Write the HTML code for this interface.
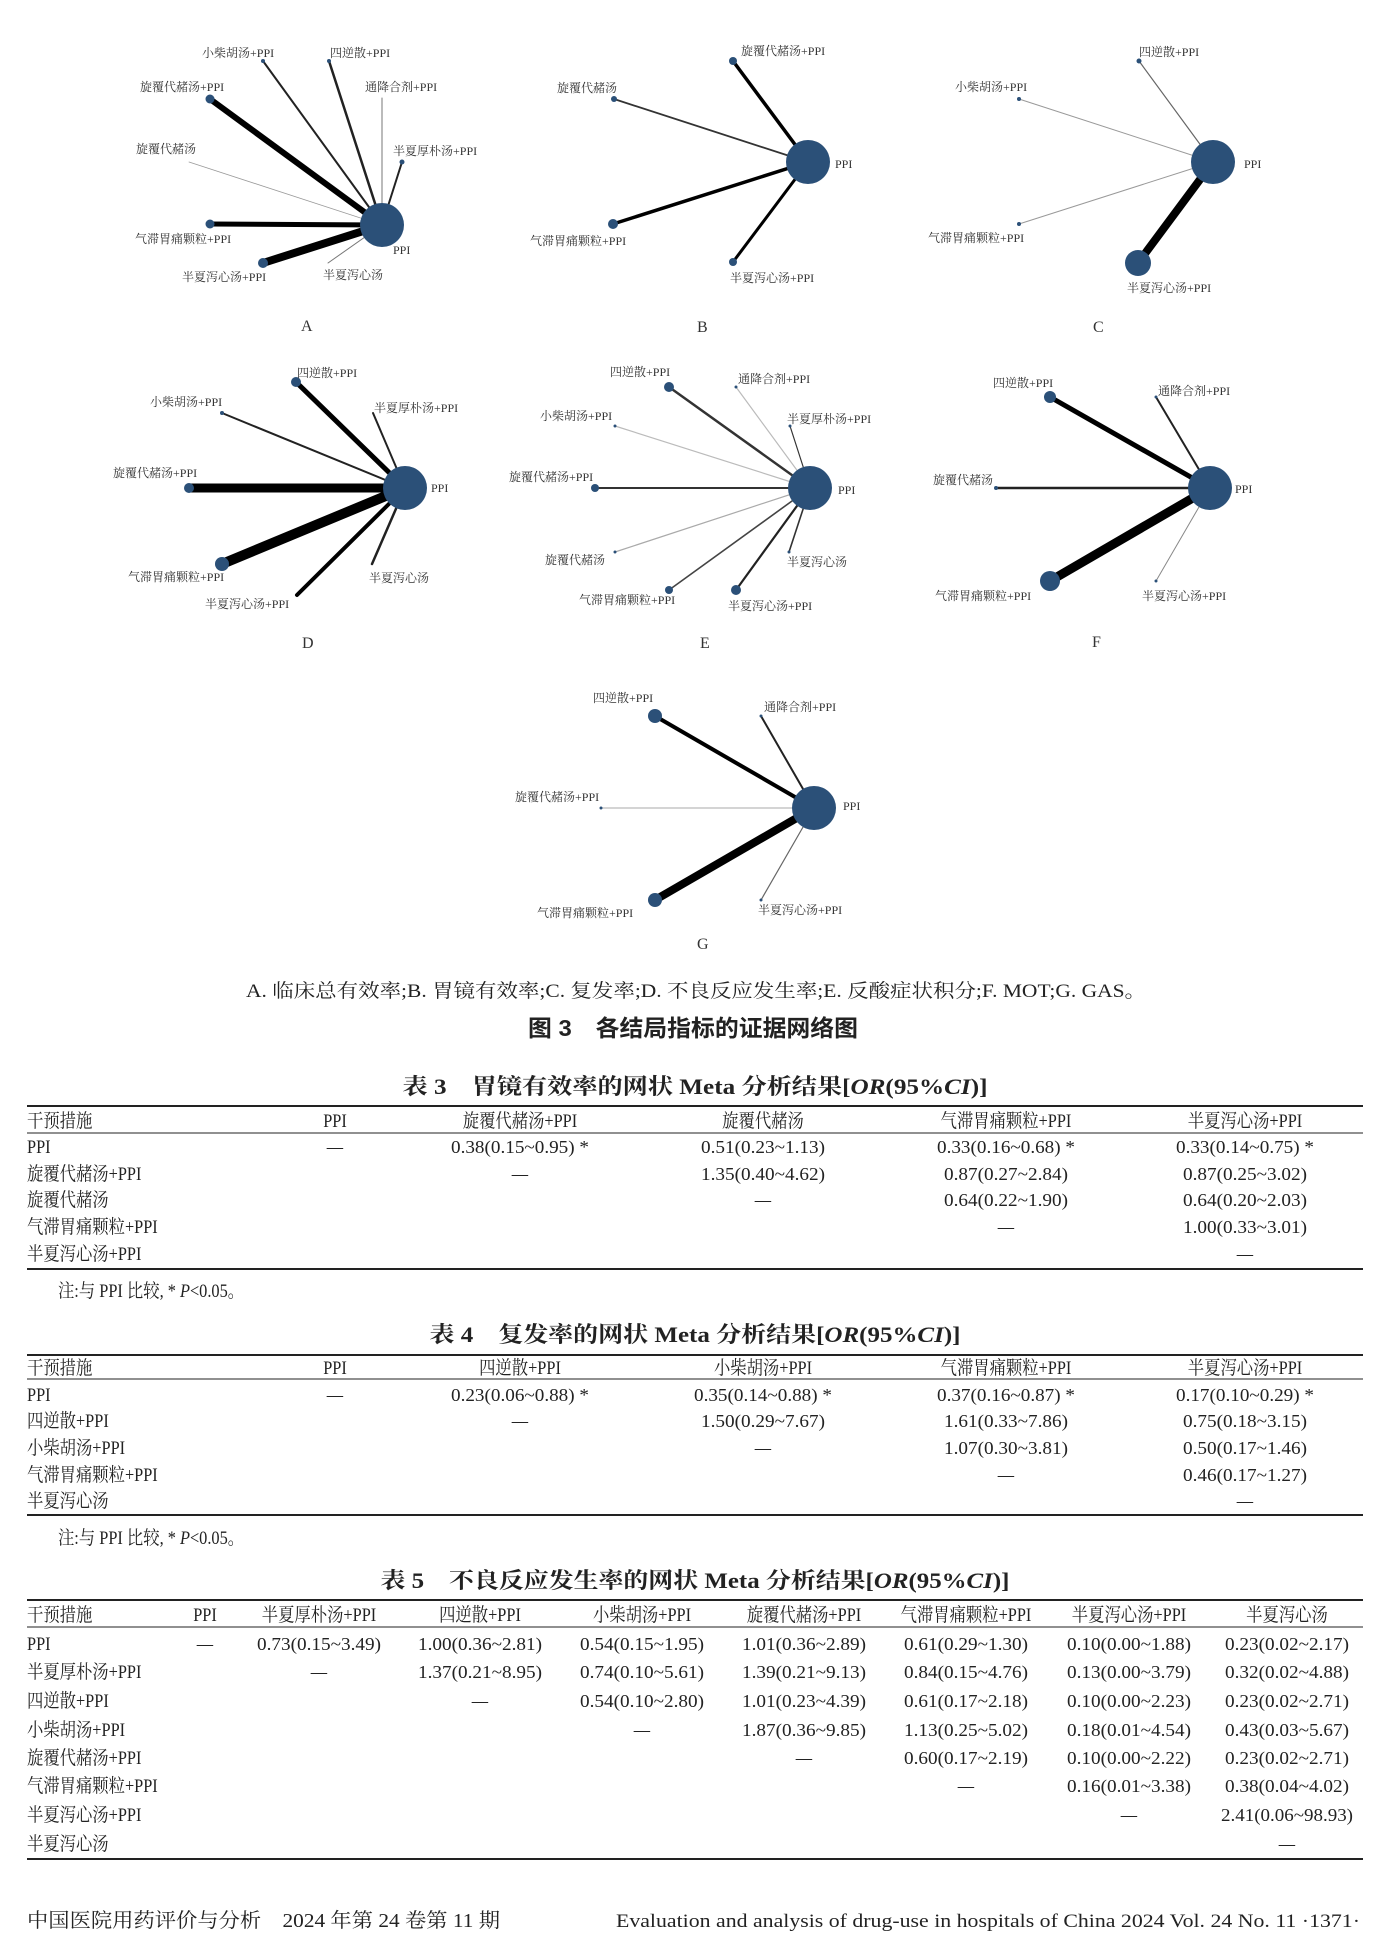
<!DOCTYPE html>
<html><head><meta charset="utf-8"><style>
html,body{margin:0;padding:0;background:#fff}
svg{display:block}
text{font-family:"Liberation Serif","Noto Serif CJK SC","Noto Sans CJK SC",serif;fill:#222}
.n text{font-size:12px;fill:#333}
.t text{font-size:19px;transform-box:fill-box;transform:scaleX(0.86);transform-origin:center}
.t text.l{transform-origin:left center}
.t text.v{transform:none;font-size:18px}
.c{fill:#2b5078}
</style></head><body>
<svg width="1375" height="1940" viewBox="0 0 1375 1940" xmlns="http://www.w3.org/2000/svg">
<g class="n" stroke-linecap="round">
<!-- A -->
<line x1="382" y1="225" x2="263" y2="61" stroke="#222" stroke-width="2"/>
<line x1="382" y1="225" x2="329" y2="61" stroke="#222" stroke-width="2.5"/>
<line x1="382" y1="225" x2="382" y2="98" stroke="#777" stroke-width="1"/>
<line x1="382" y1="225" x2="402" y2="162" stroke="#222" stroke-width="2"/>
<line x1="382" y1="225" x2="210" y2="99" stroke="#000" stroke-width="6"/>
<line x1="382" y1="225" x2="189" y2="162" stroke="#999" stroke-width="0.8"/>
<line x1="382" y1="225" x2="210" y2="224" stroke="#000" stroke-width="5"/>
<line x1="382" y1="225" x2="263" y2="263" stroke="#000" stroke-width="8"/>
<line x1="382" y1="225" x2="328" y2="263" stroke="#777" stroke-width="1"/>
<circle class="c" cx="382" cy="225" r="22"/><circle class="c" cx="263" cy="61" r="2"/><circle class="c" cx="329" cy="61" r="2"/><circle class="c" cx="402" cy="162" r="2.5"/><circle class="c" cx="210" cy="99" r="4.5"/><circle class="c" cx="210" cy="224" r="4.5"/><circle class="c" cx="263" cy="263" r="5"/>
<text x="202" y="57">小柴胡汤+PPI</text><text x="330" y="57">四逆散+PPI</text><text x="365" y="91">通降合剂+PPI</text><text x="393" y="155">半夏厚朴汤+PPI</text><text x="140" y="91">旋覆代赭汤+PPI</text><text x="136" y="153">旋覆代赭汤</text><text x="135" y="243">气滞胃痛颗粒+PPI</text><text x="182" y="281">半夏泻心汤+PPI</text><text x="323" y="279">半夏泻心汤</text><text x="393" y="254">PPI</text>
<text x="301" y="331" style="font-size:16px">A</text>
<!-- B -->
<line x1="808" y1="162" x2="733" y2="61" stroke="#000" stroke-width="3.5"/>
<line x1="808" y1="162" x2="614" y2="99" stroke="#333" stroke-width="1.8"/>
<line x1="808" y1="162" x2="613" y2="224" stroke="#000" stroke-width="3.5"/>
<line x1="808" y1="162" x2="733" y2="262" stroke="#000" stroke-width="3"/>
<circle class="c" cx="808" cy="162" r="22"/><circle class="c" cx="733" cy="61" r="4"/><circle class="c" cx="614" cy="99" r="3"/><circle class="c" cx="613" cy="224" r="5"/><circle class="c" cx="733" cy="262" r="4"/>
<text x="741" y="55">旋覆代赭汤+PPI</text><text x="557" y="92">旋覆代赭汤</text><text x="530" y="245">气滞胃痛颗粒+PPI</text><text x="730" y="282">半夏泻心汤+PPI</text><text x="835" y="168">PPI</text>
<text x="697" y="332" style="font-size:16px">B</text>
<!-- C -->
<line x1="1213" y1="162" x2="1139" y2="61" stroke="#666" stroke-width="1.2"/>
<line x1="1213" y1="162" x2="1019" y2="99" stroke="#999" stroke-width="1"/>
<line x1="1213" y1="162" x2="1019" y2="224" stroke="#999" stroke-width="1"/>
<line x1="1213" y1="162" x2="1138" y2="263" stroke="#000" stroke-width="8"/>
<circle class="c" cx="1213" cy="162" r="22"/><circle class="c" cx="1139" cy="61" r="2.5"/><circle class="c" cx="1019" cy="99" r="2"/><circle class="c" cx="1019" cy="224" r="2"/><circle class="c" cx="1138" cy="263" r="13"/>
<text x="1139" y="56">四逆散+PPI</text><text x="955" y="91">小柴胡汤+PPI</text><text x="928" y="242">气滞胃痛颗粒+PPI</text><text x="1127" y="292">半夏泻心汤+PPI</text><text x="1244" y="168">PPI</text>
<text x="1093" y="332" style="font-size:16px">C</text>
<!-- D -->
<line x1="405" y1="488" x2="296" y2="382" stroke="#000" stroke-width="5"/>
<line x1="405" y1="488" x2="222" y2="413" stroke="#222" stroke-width="2"/>
<line x1="405" y1="488" x2="373" y2="413" stroke="#222" stroke-width="2"/>
<line x1="405" y1="488" x2="189" y2="488" stroke="#000" stroke-width="9"/>
<line x1="405" y1="488" x2="222" y2="564" stroke="#000" stroke-width="10"/>
<line x1="405" y1="488" x2="297" y2="595" stroke="#000" stroke-width="4"/>
<line x1="405" y1="488" x2="372" y2="564" stroke="#222" stroke-width="2.5"/>
<circle class="c" cx="405" cy="488" r="22"/><circle class="c" cx="296" cy="382" r="5"/><circle class="c" cx="222" cy="413" r="2"/><circle class="c" cx="189" cy="488" r="5"/><circle class="c" cx="222" cy="564" r="7"/>
<text x="297" y="377">四逆散+PPI</text><text x="150" y="406">小柴胡汤+PPI</text><text x="374" y="412">半夏厚朴汤+PPI</text><text x="113" y="477">旋覆代赭汤+PPI</text><text x="128" y="581">气滞胃痛颗粒+PPI</text><text x="205" y="608">半夏泻心汤+PPI</text><text x="369" y="582">半夏泻心汤</text><text x="431" y="492">PPI</text>
<text x="302" y="648" style="font-size:16px">D</text>
<!-- E -->
<line x1="810" y1="488" x2="669" y2="387" stroke="#333" stroke-width="2.5"/>
<line x1="810" y1="488" x2="736" y2="387" stroke="#bbb" stroke-width="1.2"/>
<line x1="810" y1="488" x2="615" y2="426" stroke="#bbb" stroke-width="1.2"/>
<line x1="810" y1="488" x2="790" y2="426" stroke="#333" stroke-width="1.2"/>
<line x1="810" y1="488" x2="595" y2="488" stroke="#333" stroke-width="2"/>
<line x1="810" y1="488" x2="615" y2="552" stroke="#aaa" stroke-width="1.2"/>
<line x1="810" y1="488" x2="669" y2="590" stroke="#444" stroke-width="1.6"/>
<line x1="810" y1="488" x2="736" y2="590" stroke="#222" stroke-width="2.2"/>
<line x1="810" y1="488" x2="789" y2="552" stroke="#333" stroke-width="1.6"/>
<circle class="c" cx="810" cy="488" r="22"/><circle class="c" cx="669" cy="387" r="5"/><circle class="c" cx="736" cy="387" r="1.5"/><circle class="c" cx="615" cy="426" r="1.5"/><circle class="c" cx="790" cy="426" r="1.5"/><circle class="c" cx="595" cy="488" r="4"/><circle class="c" cx="615" cy="552" r="1.5"/><circle class="c" cx="669" cy="590" r="4"/><circle class="c" cx="736" cy="590" r="5"/><circle class="c" cx="789" cy="552" r="1.5"/>
<text x="610" y="376">四逆散+PPI</text><text x="738" y="383">通降合剂+PPI</text><text x="540" y="420">小柴胡汤+PPI</text><text x="787" y="423">半夏厚朴汤+PPI</text><text x="509" y="481">旋覆代赭汤+PPI</text><text x="545" y="564">旋覆代赭汤</text><text x="579" y="604">气滞胃痛颗粒+PPI</text><text x="728" y="610">半夏泻心汤+PPI</text><text x="787" y="566">半夏泻心汤</text><text x="838" y="494">PPI</text>
<text x="700" y="648" style="font-size:16px">E</text>
<!-- F -->
<line x1="1210" y1="488" x2="1050" y2="397" stroke="#000" stroke-width="5"/>
<line x1="1210" y1="488" x2="1156" y2="397" stroke="#222" stroke-width="2"/>
<line x1="1210" y1="488" x2="996" y2="488" stroke="#222" stroke-width="2.5"/>
<line x1="1210" y1="488" x2="1050" y2="581" stroke="#000" stroke-width="9"/>
<line x1="1210" y1="488" x2="1156" y2="581" stroke="#888" stroke-width="1"/>
<circle class="c" cx="1210" cy="488" r="22"/><circle class="c" cx="1050" cy="397" r="6"/><circle class="c" cx="1156" cy="397" r="1.5"/><circle class="c" cx="996" cy="488" r="2"/><circle class="c" cx="1050" cy="581" r="10"/><circle class="c" cx="1156" cy="581" r="1.5"/>
<text x="993" y="387">四逆散+PPI</text><text x="1158" y="395">通降合剂+PPI</text><text x="933" y="484">旋覆代赭汤</text><text x="935" y="600">气滞胃痛颗粒+PPI</text><text x="1142" y="600">半夏泻心汤+PPI</text><text x="1235" y="493">PPI</text>
<text x="1092" y="647" style="font-size:16px">F</text>
<!-- G -->
<line x1="814" y1="808" x2="655" y2="716" stroke="#000" stroke-width="4"/>
<line x1="814" y1="808" x2="761" y2="716" stroke="#222" stroke-width="2"/>
<line x1="814" y1="808" x2="601" y2="808" stroke="#bbb" stroke-width="1.2"/>
<line x1="814" y1="808" x2="655" y2="900" stroke="#000" stroke-width="8"/>
<line x1="814" y1="808" x2="761" y2="900" stroke="#666" stroke-width="1.2"/>
<circle class="c" cx="814" cy="808" r="22"/><circle class="c" cx="655" cy="716" r="7"/><circle class="c" cx="761" cy="716" r="1.5"/><circle class="c" cx="601" cy="808" r="1.5"/><circle class="c" cx="655" cy="900" r="7"/><circle class="c" cx="761" cy="900" r="1.5"/>
<text x="593" y="702">四逆散+PPI</text><text x="764" y="711">通降合剂+PPI</text><text x="515" y="801">旋覆代赭汤+PPI</text><text x="537" y="917">气滞胃痛颗粒+PPI</text><text x="758" y="914">半夏泻心汤+PPI</text><text x="843" y="810">PPI</text>
<text x="697" y="949" style="font-size:16px">G</text>
</g>
<text x="696" y="997" text-anchor="middle" textLength="900" lengthAdjust="spacingAndGlyphs" style="font-size:19px">A. 临床总有效率;B. 胃镜有效率;C. 复发率;D. 不良反应发生率;E. 反酸症状积分;F. MOT;G. GAS。</text>
<text x="693" y="1036" text-anchor="middle" textLength="330" lengthAdjust="spacingAndGlyphs" style="font-size:23px;font-weight:bold;font-family:'Liberation Sans','Noto Sans CJK SC',sans-serif">图 3　各结局指标的证据网络图</text>

<!-- Table 3 -->
<text x="695" y="1094" text-anchor="middle" textLength="585" lengthAdjust="spacingAndGlyphs" style="font-size:22px;font-weight:bold">表 3　胃镜有效率的网状 Meta 分析结果[<tspan font-style="italic">OR</tspan>(95%<tspan font-style="italic">CI</tspan>)]</text>
<line x1="27" y1="1106" x2="1363" y2="1106" stroke="#222" stroke-width="2"/>
<line x1="27" y1="1133" x2="1363" y2="1133" stroke="#222" stroke-width="1"/>
<line x1="27" y1="1269" x2="1363" y2="1269" stroke="#222" stroke-width="2"/>
<g class="t" text-anchor="middle">
<text class="l" x="27" y="1127" text-anchor="start">干预措施</text><text x="335" y="1127">PPI</text><text x="520" y="1127">旋覆代赭汤+PPI</text><text x="763" y="1127">旋覆代赭汤</text><text x="1006" y="1127">气滞胃痛颗粒+PPI</text><text x="1245" y="1127">半夏泻心汤+PPI</text>
<text class="l" x="27" y="1153" text-anchor="start">PPI</text><text x="335" y="1153">—</text><text class="v" x="520" y="1153" textLength="138" lengthAdjust="spacingAndGlyphs">0.38(0.15~0.95) *</text><text class="v" x="763" y="1153" textLength="124" lengthAdjust="spacingAndGlyphs">0.51(0.23~1.13)</text><text class="v" x="1006" y="1153" textLength="138" lengthAdjust="spacingAndGlyphs">0.33(0.16~0.68) *</text><text class="v" x="1245" y="1153" textLength="138" lengthAdjust="spacingAndGlyphs">0.33(0.14~0.75) *</text>
<text class="l" x="27" y="1180" text-anchor="start">旋覆代赭汤+PPI</text><text x="520" y="1180">—</text><text class="v" x="763" y="1180" textLength="124" lengthAdjust="spacingAndGlyphs">1.35(0.40~4.62)</text><text class="v" x="1006" y="1180" textLength="124" lengthAdjust="spacingAndGlyphs">0.87(0.27~2.84)</text><text class="v" x="1245" y="1180" textLength="124" lengthAdjust="spacingAndGlyphs">0.87(0.25~3.02)</text>
<text class="l" x="27" y="1206" text-anchor="start">旋覆代赭汤</text><text x="763" y="1206">—</text><text class="v" x="1006" y="1206" textLength="124" lengthAdjust="spacingAndGlyphs">0.64(0.22~1.90)</text><text class="v" x="1245" y="1206" textLength="124" lengthAdjust="spacingAndGlyphs">0.64(0.20~2.03)</text>
<text class="l" x="27" y="1233" text-anchor="start">气滞胃痛颗粒+PPI</text><text x="1006" y="1233">—</text><text class="v" x="1245" y="1233" textLength="124" lengthAdjust="spacingAndGlyphs">1.00(0.33~3.01)</text>
<text class="l" x="27" y="1260" text-anchor="start">半夏泻心汤+PPI</text><text x="1245" y="1260">—</text>
<text class="l" x="58" y="1297" text-anchor="start">注:与 PPI 比较, * <tspan font-style="italic">P</tspan>&lt;0.05。</text>
</g>

<!-- Table 4 -->
<text x="695" y="1342" text-anchor="middle" textLength="531" lengthAdjust="spacingAndGlyphs" style="font-size:22px;font-weight:bold">表 4　复发率的网状 Meta 分析结果[<tspan font-style="italic">OR</tspan>(95%<tspan font-style="italic">CI</tspan>)]</text>
<line x1="27" y1="1355" x2="1363" y2="1355" stroke="#222" stroke-width="2"/>
<line x1="27" y1="1379" x2="1363" y2="1379" stroke="#222" stroke-width="1"/>
<line x1="27" y1="1515" x2="1363" y2="1515" stroke="#222" stroke-width="2"/>
<g class="t" text-anchor="middle">
<text class="l" x="27" y="1374" text-anchor="start">干预措施</text><text x="335" y="1374">PPI</text><text x="520" y="1374">四逆散+PPI</text><text x="763" y="1374">小柴胡汤+PPI</text><text x="1006" y="1374">气滞胃痛颗粒+PPI</text><text x="1245" y="1374">半夏泻心汤+PPI</text>
<text class="l" x="27" y="1401" text-anchor="start">PPI</text><text x="335" y="1401">—</text><text class="v" x="520" y="1401" textLength="138" lengthAdjust="spacingAndGlyphs">0.23(0.06~0.88) *</text><text class="v" x="763" y="1401" textLength="138" lengthAdjust="spacingAndGlyphs">0.35(0.14~0.88) *</text><text class="v" x="1006" y="1401" textLength="138" lengthAdjust="spacingAndGlyphs">0.37(0.16~0.87) *</text><text class="v" x="1245" y="1401" textLength="138" lengthAdjust="spacingAndGlyphs">0.17(0.10~0.29) *</text>
<text class="l" x="27" y="1427" text-anchor="start">四逆散+PPI</text><text x="520" y="1427">—</text><text class="v" x="763" y="1427" textLength="124" lengthAdjust="spacingAndGlyphs">1.50(0.29~7.67)</text><text class="v" x="1006" y="1427" textLength="124" lengthAdjust="spacingAndGlyphs">1.61(0.33~7.86)</text><text class="v" x="1245" y="1427" textLength="124" lengthAdjust="spacingAndGlyphs">0.75(0.18~3.15)</text>
<text class="l" x="27" y="1454" text-anchor="start">小柴胡汤+PPI</text><text x="763" y="1454">—</text><text class="v" x="1006" y="1454" textLength="124" lengthAdjust="spacingAndGlyphs">1.07(0.30~3.81)</text><text class="v" x="1245" y="1454" textLength="124" lengthAdjust="spacingAndGlyphs">0.50(0.17~1.46)</text>
<text class="l" x="27" y="1481" text-anchor="start">气滞胃痛颗粒+PPI</text><text x="1006" y="1481">—</text><text class="v" x="1245" y="1481" textLength="124" lengthAdjust="spacingAndGlyphs">0.46(0.17~1.27)</text>
<text class="l" x="27" y="1507" text-anchor="start">半夏泻心汤</text><text x="1245" y="1507">—</text>
<text class="l" x="58" y="1544" text-anchor="start">注:与 PPI 比较, * <tspan font-style="italic">P</tspan>&lt;0.05。</text>
</g>

<!-- Table 5 -->
<text x="695" y="1588" text-anchor="middle" textLength="629" lengthAdjust="spacingAndGlyphs" style="font-size:22px;font-weight:bold">表 5　不良反应发生率的网状 Meta 分析结果[<tspan font-style="italic">OR</tspan>(95%<tspan font-style="italic">CI</tspan>)]</text>
<line x1="27" y1="1600" x2="1363" y2="1600" stroke="#222" stroke-width="2"/>
<line x1="27" y1="1627" x2="1363" y2="1627" stroke="#222" stroke-width="1"/>
<line x1="27" y1="1859" x2="1363" y2="1859" stroke="#222" stroke-width="2"/>
<g class="t" text-anchor="middle">
<text class="l" x="27" y="1621" text-anchor="start">干预措施</text><text x="205" y="1621">PPI</text><text x="319" y="1621">半夏厚朴汤+PPI</text><text x="480" y="1621">四逆散+PPI</text><text x="642" y="1621">小柴胡汤+PPI</text><text x="804" y="1621">旋覆代赭汤+PPI</text><text x="966" y="1621">气滞胃痛颗粒+PPI</text><text x="1129" y="1621">半夏泻心汤+PPI</text><text x="1287" y="1621">半夏泻心汤</text>
<text class="l" x="27" y="1650" text-anchor="start">PPI</text><text x="205" y="1650">—</text><text class="v" x="319" y="1650" textLength="124" lengthAdjust="spacingAndGlyphs">0.73(0.15~3.49)</text><text class="v" x="480" y="1650" textLength="124" lengthAdjust="spacingAndGlyphs">1.00(0.36~2.81)</text><text class="v" x="642" y="1650" textLength="124" lengthAdjust="spacingAndGlyphs">0.54(0.15~1.95)</text><text class="v" x="804" y="1650" textLength="124" lengthAdjust="spacingAndGlyphs">1.01(0.36~2.89)</text><text class="v" x="966" y="1650" textLength="124" lengthAdjust="spacingAndGlyphs">0.61(0.29~1.30)</text><text class="v" x="1129" y="1650" textLength="124" lengthAdjust="spacingAndGlyphs">0.10(0.00~1.88)</text><text class="v" x="1287" y="1650" textLength="124" lengthAdjust="spacingAndGlyphs">0.23(0.02~2.17)</text>
<text class="l" x="27" y="1678" text-anchor="start">半夏厚朴汤+PPI</text><text x="319" y="1678">—</text><text class="v" x="480" y="1678" textLength="124" lengthAdjust="spacingAndGlyphs">1.37(0.21~8.95)</text><text class="v" x="642" y="1678" textLength="124" lengthAdjust="spacingAndGlyphs">0.74(0.10~5.61)</text><text class="v" x="804" y="1678" textLength="124" lengthAdjust="spacingAndGlyphs">1.39(0.21~9.13)</text><text class="v" x="966" y="1678" textLength="124" lengthAdjust="spacingAndGlyphs">0.84(0.15~4.76)</text><text class="v" x="1129" y="1678" textLength="124" lengthAdjust="spacingAndGlyphs">0.13(0.00~3.79)</text><text class="v" x="1287" y="1678" textLength="124" lengthAdjust="spacingAndGlyphs">0.32(0.02~4.88)</text>
<text class="l" x="27" y="1707" text-anchor="start">四逆散+PPI</text><text x="480" y="1707">—</text><text class="v" x="642" y="1707" textLength="124" lengthAdjust="spacingAndGlyphs">0.54(0.10~2.80)</text><text class="v" x="804" y="1707" textLength="124" lengthAdjust="spacingAndGlyphs">1.01(0.23~4.39)</text><text class="v" x="966" y="1707" textLength="124" lengthAdjust="spacingAndGlyphs">0.61(0.17~2.18)</text><text class="v" x="1129" y="1707" textLength="124" lengthAdjust="spacingAndGlyphs">0.10(0.00~2.23)</text><text class="v" x="1287" y="1707" textLength="124" lengthAdjust="spacingAndGlyphs">0.23(0.02~2.71)</text>
<text class="l" x="27" y="1736" text-anchor="start">小柴胡汤+PPI</text><text x="642" y="1736">—</text><text class="v" x="804" y="1736" textLength="124" lengthAdjust="spacingAndGlyphs">1.87(0.36~9.85)</text><text class="v" x="966" y="1736" textLength="124" lengthAdjust="spacingAndGlyphs">1.13(0.25~5.02)</text><text class="v" x="1129" y="1736" textLength="124" lengthAdjust="spacingAndGlyphs">0.18(0.01~4.54)</text><text class="v" x="1287" y="1736" textLength="124" lengthAdjust="spacingAndGlyphs">0.43(0.03~5.67)</text>
<text class="l" x="27" y="1764" text-anchor="start">旋覆代赭汤+PPI</text><text x="804" y="1764">—</text><text class="v" x="966" y="1764" textLength="124" lengthAdjust="spacingAndGlyphs">0.60(0.17~2.19)</text><text class="v" x="1129" y="1764" textLength="124" lengthAdjust="spacingAndGlyphs">0.10(0.00~2.22)</text><text class="v" x="1287" y="1764" textLength="124" lengthAdjust="spacingAndGlyphs">0.23(0.02~2.71)</text>
<text class="l" x="27" y="1792" text-anchor="start">气滞胃痛颗粒+PPI</text><text x="966" y="1792">—</text><text class="v" x="1129" y="1792" textLength="124" lengthAdjust="spacingAndGlyphs">0.16(0.01~3.38)</text><text class="v" x="1287" y="1792" textLength="124" lengthAdjust="spacingAndGlyphs">0.38(0.04~4.02)</text>
<text class="l" x="27" y="1821" text-anchor="start">半夏泻心汤+PPI</text><text x="1129" y="1821">—</text><text class="v" x="1287" y="1821" textLength="132" lengthAdjust="spacingAndGlyphs">2.41(0.06~98.93)</text>
<text class="l" x="27" y="1850" text-anchor="start">半夏泻心汤</text><text x="1287" y="1850">—</text>
</g>
<text x="27" y="1927" textLength="473" lengthAdjust="spacingAndGlyphs" style="font-size:20px">中国医院用药评价与分析　2024 年第 24 卷第 11 期</text>
<text x="1360" y="1927" text-anchor="end" textLength="744" lengthAdjust="spacingAndGlyphs" style="font-size:19px">Evaluation and analysis of drug-use in hospitals of China 2024 Vol. 24 No. 11 ·1371·</text>
</svg>
</body></html>
